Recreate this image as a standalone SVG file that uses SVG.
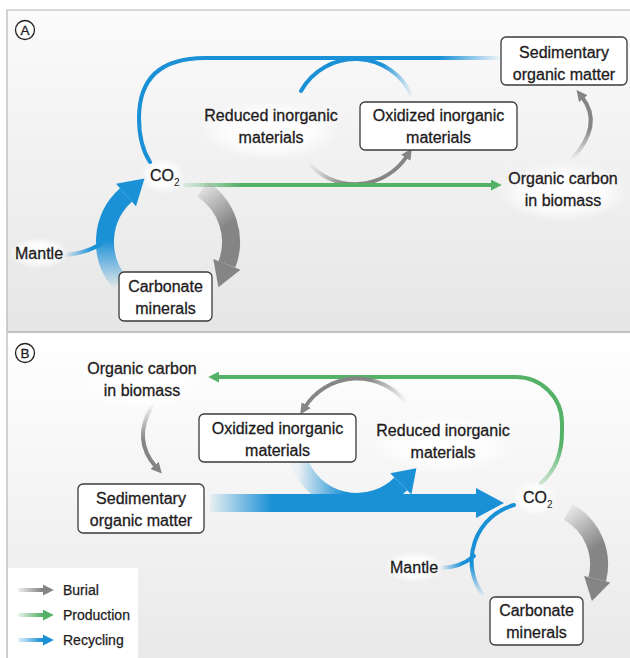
<svg xmlns="http://www.w3.org/2000/svg" width="630" height="658" viewBox="0 0 630 658">
<defs>
<style>
.t{font-family:"Liberation Sans",Arial,sans-serif;font-size:16px;fill:#1e1b1c;stroke:#1e1b1c;stroke-width:0.3;text-anchor:middle}
.ts{font-family:"Liberation Sans",Arial,sans-serif;font-size:16px;fill:#1e1b1c;stroke:#1e1b1c;stroke-width:0.3}
.lg{font-family:"Liberation Sans",Arial,sans-serif;font-size:14px;fill:#1e1b1c;stroke:#1e1b1c;stroke-width:0.25}
.sub{font-family:"Liberation Sans",Arial,sans-serif;font-size:10px;fill:#1e1b1c}
.box{fill:#fff;stroke:#3a3a3a;stroke-width:1.3}
.thin{fill:none;stroke-width:4;stroke-linecap:round}
.thick{fill:none;stroke-width:18;stroke-linecap:butt}
.glow{fill:url(#glow)}
</style>
<linearGradient id="bgA" x1="0" y1="0" x2="0" y2="1"><stop offset="0" stop-color="#fbfbfb"/><stop offset="1" stop-color="#e6e6e6"/></linearGradient>
<linearGradient id="bgB" x1="0" y1="0" x2="0" y2="1"><stop offset="0" stop-color="#ffffff"/><stop offset="1" stop-color="#e9e9e9"/></linearGradient>
<radialGradient id="glow"><stop offset="0" stop-color="#fff" stop-opacity="1"/><stop offset="0.6" stop-color="#fff" stop-opacity="0.8"/><stop offset="1" stop-color="#fff" stop-opacity="0"/></radialGradient>
<marker id="mg" markerUnits="userSpaceOnUse" markerWidth="11" markerHeight="11" viewBox="0 0 10 10" refX="2" refY="5" orient="auto"><path d="M0,0 L10,5 L0,10 Z" fill="#858585"/></marker>
<marker id="mgr" markerUnits="userSpaceOnUse" markerWidth="11" markerHeight="11" viewBox="0 0 10 10" refX="2" refY="5" orient="auto"><path d="M0,0 L10,5 L0,10 Z" fill="#55b168"/></marker>
<marker id="mb" markerUnits="userSpaceOnUse" markerWidth="11" markerHeight="11" viewBox="0 0 10 10" refX="2" refY="5" orient="auto"><path d="M0,0 L10,5 L0,10 Z" fill="#1a90d6"/></marker>
<linearGradient id="gA1" gradientUnits="userSpaceOnUse" x1="440" y1="0" x2="502" y2="0"><stop offset="0" stop-color="#1a90d6"/><stop offset="1" stop-color="#1a90d6" stop-opacity="0"/></linearGradient>
<linearGradient id="gA2" gradientUnits="userSpaceOnUse" x1="382" y1="0" x2="413" y2="0"><stop offset="0" stop-color="#1a90d6"/><stop offset="1" stop-color="#1a90d6" stop-opacity="0"/></linearGradient>
<linearGradient id="gA3" gradientUnits="userSpaceOnUse" x1="308" y1="0" x2="345" y2="0"><stop offset="0" stop-color="#858585" stop-opacity="0"/><stop offset="1" stop-color="#858585"/></linearGradient>
<linearGradient id="gA4" gradientUnits="userSpaceOnUse" x1="183" y1="0" x2="240" y2="0"><stop offset="0" stop-color="#55b168" stop-opacity="0.1"/><stop offset="1" stop-color="#55b168"/></linearGradient>
<linearGradient id="gA5" gradientUnits="userSpaceOnUse" x1="0" y1="160" x2="0" y2="128"><stop offset="0" stop-color="#858585" stop-opacity="0"/><stop offset="1" stop-color="#858585"/></linearGradient>
<linearGradient id="gA6" gradientUnits="userSpaceOnUse" x1="0" y1="287" x2="0" y2="240"><stop offset="0" stop-color="#1a90d6" stop-opacity="0.05"/><stop offset="1" stop-color="#1a90d6"/></linearGradient>
<linearGradient id="gA7" gradientUnits="userSpaceOnUse" x1="198" y1="186" x2="228" y2="225"><stop offset="0" stop-color="#858585" stop-opacity="0.05"/><stop offset="1" stop-color="#858585"/></linearGradient>
<linearGradient id="gA8" gradientUnits="userSpaceOnUse" x1="64" y1="0" x2="92" y2="0"><stop offset="0" stop-color="#1a90d6" stop-opacity="0"/><stop offset="1" stop-color="#1a90d6"/></linearGradient>
<linearGradient id="gB1" gradientUnits="userSpaceOnUse" x1="0" y1="486" x2="0" y2="445"><stop offset="0" stop-color="#55b168" stop-opacity="0.2"/><stop offset="1" stop-color="#55b168"/></linearGradient>
<linearGradient id="gB2" gradientUnits="userSpaceOnUse" x1="407" y1="0" x2="368" y2="0"><stop offset="0" stop-color="#858585" stop-opacity="0"/><stop offset="1" stop-color="#858585"/></linearGradient>
<linearGradient id="gB3" gradientUnits="userSpaceOnUse" x1="0" y1="404" x2="0" y2="440"><stop offset="0" stop-color="#858585" stop-opacity="0"/><stop offset="1" stop-color="#858585"/></linearGradient>
<linearGradient id="gB4" gradientUnits="userSpaceOnUse" x1="298" y1="0" x2="345" y2="0"><stop offset="0" stop-color="#1a90d6" stop-opacity="0.05"/><stop offset="1" stop-color="#1a90d6"/></linearGradient>
<linearGradient id="gB5" gradientUnits="userSpaceOnUse" x1="210" y1="0" x2="272" y2="0"><stop offset="0" stop-color="#1a90d6" stop-opacity="0.05"/><stop offset="1" stop-color="#1a90d6"/></linearGradient>
<linearGradient id="gB6" gradientUnits="userSpaceOnUse" x1="0" y1="597" x2="0" y2="565"><stop offset="0" stop-color="#1a90d6" stop-opacity="0"/><stop offset="1" stop-color="#1a90d6"/></linearGradient>
<linearGradient id="gB7" gradientUnits="userSpaceOnUse" x1="440" y1="0" x2="462" y2="0"><stop offset="0" stop-color="#1a90d6" stop-opacity="0"/><stop offset="1" stop-color="#1a90d6"/></linearGradient>
<linearGradient id="gB8" gradientUnits="userSpaceOnUse" x1="565" y1="508" x2="596" y2="548"><stop offset="0" stop-color="#858585" stop-opacity="0.05"/><stop offset="1" stop-color="#858585"/></linearGradient>
<linearGradient id="gL1" gradientUnits="userSpaceOnUse" x1="20" y1="0" x2="42" y2="0"><stop offset="0" stop-color="#858585" stop-opacity="0.2"/><stop offset="1" stop-color="#858585"/></linearGradient>
<linearGradient id="gL2" gradientUnits="userSpaceOnUse" x1="20" y1="0" x2="42" y2="0"><stop offset="0" stop-color="#55b168" stop-opacity="0.2"/><stop offset="1" stop-color="#55b168"/></linearGradient>
<linearGradient id="gL3" gradientUnits="userSpaceOnUse" x1="20" y1="0" x2="42" y2="0"><stop offset="0" stop-color="#1a90d6" stop-opacity="0.2"/><stop offset="1" stop-color="#1a90d6"/></linearGradient>
</defs>

<rect x="0" y="0" width="630" height="658" fill="#fff"/>
<rect x="7" y="10" width="623" height="321" fill="url(#bgA)"/>
<rect x="7" y="333" width="623" height="325" fill="url(#bgB)"/>
<path d="M7 658 L7 10 L630 10" fill="none" stroke="#b5b5b5" stroke-width="1.2"/>
<line x1="7" y1="332" x2="630" y2="332" stroke="#c2c2c2" stroke-width="2.2"/>

<ellipse class="glow" cx="270" cy="130" rx="70" ry="30"/>
<ellipse class="glow" cx="163" cy="176" rx="22" ry="18"/>
<ellipse class="glow" cx="39" cy="253" rx="30" ry="16"/>
<ellipse class="glow" cx="563" cy="192" rx="66" ry="30"/>
<ellipse class="glow" cx="142" cy="382" rx="64" ry="30"/>
<ellipse class="glow" cx="443" cy="444" rx="72" ry="30"/>
<ellipse class="glow" cx="535" cy="498" rx="22" ry="18"/>
<ellipse class="glow" cx="414" cy="567" rx="30" ry="16"/>

<g id="connectors">
  <path class="thin" stroke="url(#gA1)" d="M150 162 Q139 145 139 118 Q139 58 205 58 L502 58"/>
  <path class="thin" stroke="url(#gA2)" d="M412 96 A62 62 0 0 0 301 91"/>
  <path class="thin" stroke="url(#gA3)" d="M307.5 162 A62 62 0 0 0 407 156" marker-end="url(#mg)"/>
  <path class="thin" stroke="url(#gA4)" d="M185 185 L493 185" marker-end="url(#mgr)"/>
  <path class="thin" stroke="url(#gA5)" d="M571 160 Q604 125 582 97" marker-end="url(#mg)"/>
  <path class="thick" stroke="url(#gA6)" d="M119.7 282.5 A63 63 0 0 1 126 195"/>
  <polygon points="136,206.2 116,183.8 144.5,178.5" fill="#1a90d6"/>
  <path class="thin" stroke="url(#gA8)" d="M64 255 Q84 254 101 244"/>
  <path class="thick" stroke="url(#gA7)" d="M202.3 189.1 A63 63 0 0 1 226.9 264.4"/>
  <polygon points="240.5,269.8 213.3,259.0 218.4,287.2" fill="#858585"/>
  <path class="thin" stroke="url(#gB1)" d="M541 483 Q562 465 562 432 L562 423 A46 46 0 0 0 516 377 L217 377" marker-end="url(#mgr)"/>
  <path class="thin" stroke="url(#gB2)" d="M405 401 A62 62 0 0 0 305 407" marker-end="url(#mg)"/>
  <path class="thin" stroke="url(#gB3)" d="M152 406 Q132 440 156 467" marker-end="url(#mg)"/>
  <path class="thick" stroke="url(#gB5)" stroke-width="20" d="M210 503 L478 503"/>
  <polygon points="476,488 504,503 476,518" fill="#1a90d6"/>
  <path class="thick" stroke="url(#gB4)" d="M298.7 461.2 A62 62 0 0 0 400.8 483.8"/>
  <polygon points="411.4,494.4 390.2,473.2 416.4,468.2" fill="#1a90d6"/>
  <path class="thin" stroke="url(#gB6)" d="M482 594 A58 58 0 0 1 514 505"/>
  <path class="thin" stroke="url(#gB7)" d="M440 568 Q460 568 474 556"/>
  <path class="thick" stroke="url(#gB8)" d="M568.2 512 A60 60 0 0 1 597.2 579.3"/>
  <polygon points="610.3,582.5 584.1,576.1 591.9,601" fill="#858585"/>
</g>

<g id="labelA"><circle cx="25" cy="30" r="9.5" fill="#fff" stroke="#231f20" stroke-width="1.3"/><text class="t" x="25" y="35" style="font-size:13.5px">A</text></g>
<g id="A-sedimentary"><rect class="box" x="501" y="37" width="126" height="48" rx="5"/><text class="t" x="564" y="58">Sedimentary</text><text class="t" x="564" y="80">organic matter</text></g>
<g id="A-reduced"><text class="t" x="271" y="121">Reduced inorganic</text><text class="t" x="271" y="143">materials</text></g>
<g id="A-oxidized"><rect class="box" x="360" y="102" width="157" height="48" rx="5"/><text class="t" x="438.5" y="121">Oxidized inorganic</text><text class="t" x="438.5" y="143">materials</text></g>
<g id="A-co2"><text class="ts" x="150" y="181">CO</text><text class="sub" x="174" y="186">2</text></g>
<g id="A-biomass"><text class="t" x="563" y="184">Organic carbon</text><text class="t" x="563" y="206">in biomass</text></g>
<g id="A-mantle"><text class="ts" x="15" y="259">Mantle</text></g>
<g id="A-carbonate"><rect class="box" x="119" y="272" width="93" height="49" rx="5"/><text class="t" x="165.5" y="292">Carbonate</text><text class="t" x="165.5" y="314">minerals</text></g>

<g id="labelB"><circle cx="25" cy="353" r="9.5" fill="#fff" stroke="#231f20" stroke-width="1.3"/><text class="t" x="25" y="358" style="font-size:13.5px">B</text></g>
<g id="B-biomass"><text class="t" x="142" y="374">Organic carbon</text><text class="t" x="142" y="396">in biomass</text></g>
<g id="B-oxidized"><rect class="box" x="199" y="414" width="157" height="48" rx="5"/><text class="t" x="277.5" y="434">Oxidized inorganic</text><text class="t" x="277.5" y="456">materials</text></g>
<g id="B-reduced"><text class="t" x="443" y="436">Reduced inorganic</text><text class="t" x="443" y="458">materials</text></g>
<g id="B-sedimentary"><rect class="box" x="78" y="484" width="126" height="49" rx="5"/><text class="t" x="141" y="504">Sedimentary</text><text class="t" x="141" y="526">organic matter</text></g>
<g id="B-co2"><text class="ts" x="523" y="503">CO</text><text class="sub" x="547" y="508">2</text></g>
<g id="B-mantle"><text class="ts" x="390" y="573">Mantle</text></g>
<g id="B-carbonate"><rect class="box" x="490" y="597" width="93" height="48" rx="5"/><text class="t" x="536.5" y="616">Carbonate</text><text class="t" x="536.5" y="638">minerals</text></g>

<g id="legend">
  <rect x="8" y="568" width="130" height="90" fill="#fff"/>
  <path class="thin" stroke="url(#gL1)" stroke-linecap="butt" d="M20 590 L45 590" marker-end="url(#mg)"/>
  <path class="thin" stroke="url(#gL2)" stroke-linecap="butt" d="M20 615 L45 615" marker-end="url(#mgr)"/>
  <path class="thin" stroke="url(#gL3)" stroke-linecap="butt" d="M20 640 L45 640" marker-end="url(#mb)"/>
  <text class="lg" x="63" y="595">Burial</text>
  <text class="lg" x="63" y="620">Production</text>
  <text class="lg" x="63" y="645">Recycling</text>
</g>
</svg>
